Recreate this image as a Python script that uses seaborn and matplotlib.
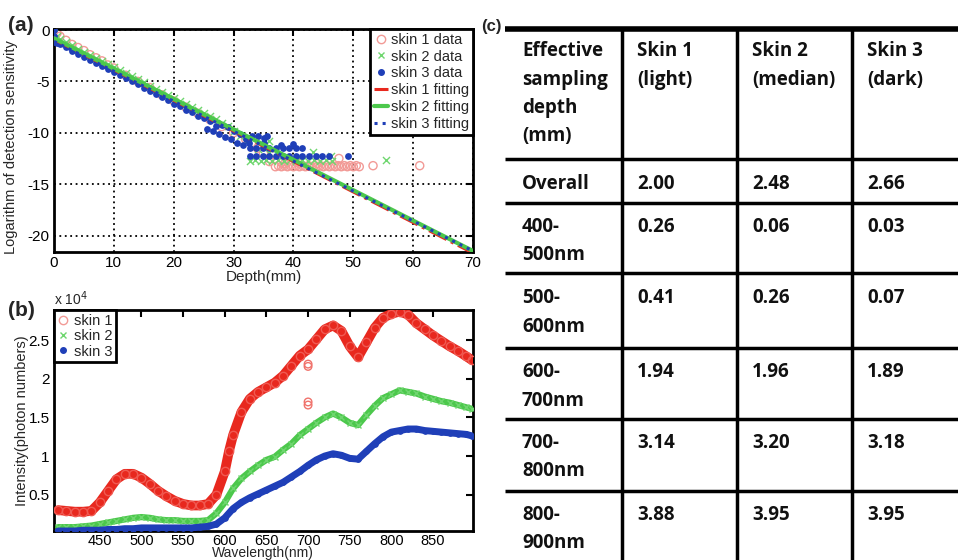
import numpy as np
import pandas as pd
import seaborn as sns
import matplotlib.pyplot as plt
from matplotlib.lines import Line2D

# ------------------ DATA ------------------
# (a) logarithm of detection sensitivity vs depth (mm)
skin1_depth = [0, 0.5, 1, 2, 3, 4, 5, 6, 7, 8, 9, 10, 12, 14, 16, 18, 20, 22, 24, 26,
               28, 30, 32, 33, 34, 35, 36,
               37, 37.5, 38, 38.5, 39, 39.5, 40, 40.5, 41, 41.5, 42, 42.5, 43, 43.5, 44,
               44.5, 45, 45.5, 46, 46.5, 47, 47.5, 48, 48.5, 49, 49.5, 50, 50.5, 51,
               53.3, 61.1, 47.6, 38.5, 41, 44, 36, 38]
skin1_logsens = [0.1, -0.3, -0.6, -1.0, -1.4, -1.7, -2.0, -2.4, -2.7, -3.0, -3.4, -3.7,
                 -4.4, -5.0, -5.6, -6.3, -6.9, -7.5, -8.1, -8.7,
                 -9.4, -10.0, -10.6, -11.0, -11.5, -12.0, -12.5,
                 -13.3, -13.2, -13.3, -13.2, -13.3, -13.2, -13.3, -13.2, -13.3, -13.2, -13.3,
                 -13.2, -13.3, -13.2, -13.3, -13.2, -13.3, -13.2, -13.3, -13.2, -13.3,
                 -13.2, -13.3, -13.2, -13.3, -13.2, -13.3, -13.2, -13.3,
                 -13.2, -13.2, -12.5, -13.0, -13.0, -13.0, -12.8, -12.9]

skin2_depth = [0, 0.5, 1, 2, 3, 4, 5, 6, 7, 8, 9, 10, 11, 12, 13, 14, 15, 16, 17, 18, 19,
               20, 21, 22, 23, 24, 25, 26, 27, 28, 29, 30, 31, 32,
               32.7, 33.5, 34.5, 35.5, 36.5, 37.5, 38.5, 39.5, 40.5, 41.5, 42.5, 43.5,
               44.5, 45.5, 46.5, 35.9, 43.3, 55.5, 46.3, 34, 36]
skin2_logsens = [-0.3, -0.6, -0.9, -1.2, -1.5, -1.8, -2.1, -2.4, -2.7, -3.0, -3.3, -3.6,
                 -3.9, -4.2, -4.5, -4.8, -5.1, -5.4, -5.7, -6.0, -6.3,
                 -6.6, -6.9, -7.2, -7.5, -7.8, -8.1, -8.4, -8.7, -9.0, -9.3, -9.8, -10.3,
                 -10.9,
                 -12.7, -12.6, -12.7, -12.6, -12.7, -12.6, -12.7, -12.6, -12.7, -12.6,
                 -12.7, -12.6, -12.7, -12.6, -12.7, -10.8, -11.9, -12.6, -12.3, -11.6, -12.0]

skin3_depth = [0, 0, 0, 0.5, 1, 2, 3, 4, 5, 6, 7, 8, 9, 10, 11, 12, 13, 14, 15, 16, 17,
               18, 19, 20, 21, 22, 23, 24, 25, 25.5, 26, 26.5, 27, 27.5, 28, 28.5, 29,
               29.5, 30, 30.5, 31, 31.5, 32, 32.5, 33, 34, 35, 35.6,
               32.7, 33.8, 34.9, 36, 37.1, 38.2, 39.3, 40.4, 41.5,
               32.7, 33.8, 34.9, 36, 37.1, 38.2, 39.3, 40.4, 41.5, 42.6, 43.7, 44.8, 46,
               49.1, 35, 38, 40]
skin3_logsens = [0, -0.6, -1.2, -1.3, -1.4, -1.7, -2.0, -2.3, -2.6, -2.9, -3.2, -3.5, -3.8,
                 -4.1, -4.4, -4.7, -5.0, -5.3, -5.6, -5.9, -6.2,
                 -6.5, -6.8, -7.2, -7.4, -7.8, -8.0, -8.4, -8.6, -9.6, -8.9, -9.8, -9.3,
                 -10.1, -9.2, -10.4, -9.4,
                 -10.6, -9.8, -11.0, -10.1, -11.2, -10.6, -11.0, -10.3, -10.3, -10.5, -10.3,
                 -11.5, -11.5, -11.5, -11.5, -11.5, -11.5, -11.5, -11.5, -11.5,
                 -12.25, -12.25, -12.25, -12.25, -12.25, -12.25, -12.25, -12.25, -12.25,
                 -12.25, -12.25, -12.25, -12.25,
                 -12.3, -11.0, -11.2, -11.1]

fit_depth = [0, 70]
fit1 = [-0.9, -21.7]
fit2 = [-0.8, -21.5]
fit3 = [-1.1, -21.5]

# (b) spectra, intensity in units of 10^4 photons
skin1_wl = [400, 410, 420, 430, 440, 450, 460, 470, 480, 490, 500, 510, 520, 530, 540,
            550, 560, 570, 580, 590, 600, 605, 610, 620, 630, 640, 650, 660, 670, 680,
            690, 700, 710, 720, 730, 740, 750, 760, 770, 780, 790, 800, 810, 820, 830,
            840, 850, 860, 870, 880, 890, 897]
skin1_int = [0.30, 0.29, 0.28, 0.28, 0.29, 0.40, 0.55, 0.70, 0.77, 0.77, 0.72, 0.64,
             0.55, 0.48, 0.42, 0.38, 0.36, 0.36, 0.38, 0.50, 0.80, 1.06, 1.27, 1.57,
             1.74, 1.83, 1.89, 1.95, 2.04, 2.17, 2.30, 2.38, 2.51, 2.64, 2.69, 2.62,
             2.42, 2.28, 2.47, 2.66, 2.79, 2.84, 2.87, 2.83, 2.72, 2.64, 2.56, 2.49,
             2.42, 2.36, 2.29, 2.24]
skin1_outlier_wl = [700, 700, 700, 700]
skin1_outlier_int = [2.19, 2.16, 1.70, 1.66]

skin2_wl = [400, 410, 420, 430, 440, 450, 460, 470, 480, 490, 500, 510, 520, 530, 540,
            550, 560, 570, 580, 590, 600, 610, 620, 630, 640, 650, 660, 670, 680, 690,
            700, 710, 720, 730, 740, 750, 760, 770, 780, 790, 800, 810, 820, 830, 840,
            850, 860, 870, 880, 890, 897]
skin2_int = [0.08, 0.08, 0.08, 0.09, 0.10, 0.12, 0.14, 0.16, 0.18, 0.20, 0.21, 0.20,
             0.18, 0.17, 0.17, 0.16, 0.16, 0.16, 0.17, 0.26, 0.40, 0.58, 0.71, 0.80,
             0.88, 0.95, 0.99, 1.08, 1.16, 1.27, 1.35, 1.43, 1.50, 1.55, 1.50, 1.43,
             1.40, 1.53, 1.65, 1.75, 1.80, 1.85, 1.83, 1.81, 1.77, 1.74, 1.71, 1.69,
             1.66, 1.63, 1.61]

skin3_wl = [400, 410, 420, 430, 440, 450, 460, 470, 480, 490, 500, 510, 520, 530, 540,
            550, 560, 570, 580, 590, 600, 610, 620, 630, 640, 650, 660, 670, 680, 690,
            700, 710, 720, 730, 740, 750, 760, 770, 780, 790, 800, 810, 820, 830, 840,
            850, 860, 870, 880, 890, 897]
skin3_int = [0.03, 0.03, 0.03, 0.04, 0.04, 0.04, 0.05, 0.05, 0.06, 0.06, 0.07, 0.07,
             0.07, 0.07, 0.07, 0.07, 0.07, 0.08, 0.09, 0.12, 0.20, 0.32, 0.40, 0.46,
             0.51, 0.56, 0.61, 0.66, 0.73, 0.80, 0.88, 0.95, 1.00, 1.03, 1.01, 0.97,
             0.96, 1.06, 1.16, 1.25, 1.31, 1.33, 1.35, 1.35, 1.33, 1.32, 1.31, 1.30,
             1.29, 1.28, 1.26]

# (c) effective sampling depth table
header = ["Effective\nsampling\ndepth\n(mm)", "Skin 1\n(light)", "Skin 2\n(median)", "Skin 3\n(dark)"]
row_names = ["Overall", "400-\n500nm", "500-\n600nm", "600-\n700nm", "700-\n800nm", "800-\n900nm"]
depth_skin1 = [2.00, 0.26, 0.41, 1.94, 3.14, 3.88]
depth_skin2 = [2.48, 0.06, 0.26, 1.96, 3.20, 3.95]
depth_skin3 = [2.66, 0.03, 0.07, 1.89, 3.18, 3.95]

# ------------------ STYLE ------------------
sns.set_style("white")
plt.rcParams['font.family'] = ['Liberation Sans', 'DejaVu Sans']
plt.rcParams['font.size'] = 11

RED = '#e8281e'
GREEN = '#4cc84c'
GREEN_LIGHT = '#6fd66f'
BLUE = '#1f3fb8'

W, H = 958, 560
fig = plt.figure(figsize=(W / 100, H / 100), dpi=100)
fig.patch.set_facecolor('white')


def px_axes(left, top, right, bottom):
    return fig.add_axes([left / W, 1 - bottom / H, (right - left) / W, (bottom - top) / H])


def matlab_frame(ax, size=11, pad=3):
    for s in ax.spines.values():
        s.set_linewidth(2)
        s.set_color('black')
    ax.tick_params(direction='in', top=True, right=True, length=5, width=1.5,
                   labelsize=size, pad=pad, colors='black')


# background axes in pixel coordinates for the table and panel letters
bg = fig.add_axes([0, 0, 1, 1])
bg.set_xlim(0, W)
bg.set_ylim(H, 0)
bg.axis('off')

# ------------------ (a) SCATTER + FITTING ------------------
ax_a = px_axes(54, 29, 473, 252)
sns.scatterplot(x=skin1_depth, y=skin1_logsens, ax=ax_a, marker='o', s=34,
                facecolor='none', edgecolor='#f29a96', linewidth=1, zorder=2)
sns.scatterplot(x=skin2_depth, y=skin2_logsens, ax=ax_a, marker='x', s=26,
                color=GREEN_LIGHT, linewidth=1, zorder=3)
sns.scatterplot(x=skin3_depth, y=skin3_logsens, ax=ax_a, marker='o', s=24,
                color=BLUE, edgecolor=BLUE, linewidth=0, zorder=4)
sns.lineplot(x=fit_depth, y=fit1, ax=ax_a, color=RED, lw=2.2, linestyle='-.', zorder=5)
sns.lineplot(x=fit_depth, y=fit2, ax=ax_a, color=GREEN, lw=3, linestyle='-', zorder=6)
sns.lineplot(x=fit_depth, y=fit3, ax=ax_a, color=BLUE, lw=2.2, linestyle=':', zorder=7)

ax_a.set_xlim(0, 70)
ax_a.set_ylim(-21.6, 0.1)
ax_a.set_xticks([0, 10, 20, 30, 40, 50, 60, 70])
ax_a.set_yticks([0, -5, -10, -15, -20])
ax_a.set_yticklabels(['0', '-5', '-10', '-15', '-20'])
ax_a.grid(True, color='black', linestyle=(0, (1, 2)), linewidth=1.3)
ax_a.set_axisbelow(True)
matlab_frame(ax_a)
ax_a.set_xlabel('Depth(mm)', fontsize=11, labelpad=0)
ax_a.set_ylabel('Logarithm of detection sensitivity', fontsize=10.5, labelpad=0)
ax_a.yaxis.set_label_coords(-0.085, 0.47)

handles_a = [
    Line2D([], [], marker='o', ls='none', mfc='none', mec='#f29a96', ms=6, label='skin 1 data'),
    Line2D([], [], marker='x', ls='none', color=GREEN_LIGHT, ms=5, label='skin 2 data'),
    Line2D([], [], marker='o', ls='none', color=BLUE, ms=4, label='skin 3 data'),
    Line2D([], [], color=RED, ls='-.', lw=2.2, label='skin 1 fitting'),
    Line2D([], [], color=GREEN, ls='-', lw=3, label='skin 2 fitting'),
    Line2D([], [], color=BLUE, ls=':', lw=2.2, label='skin 3 fitting'),
]
leg_a = ax_a.legend(handles=handles_a, loc='upper right', borderaxespad=0, fontsize=10.5,
                    handlelength=1.0, handletextpad=0.2, labelspacing=0.2,
                    borderpad=0.25, fancybox=False, framealpha=1)
leg_a.get_frame().set_edgecolor('black')
leg_a.get_frame().set_linewidth(2)

# ------------------ (b) SPECTRA ------------------
ax_b = px_axes(54, 310, 473, 531)
sns.lineplot(x=skin1_wl, y=skin1_int, ax=ax_b, color=RED, lw=7, estimator=None,
             marker='o', markersize=6, mfc='none', mec='#f05a52', mew=1, zorder=3)
sns.scatterplot(x=skin1_outlier_wl, y=skin1_outlier_int, ax=ax_b, marker='o', s=30,
                facecolor='none', edgecolor='#f0726b', linewidth=1, zorder=3)
sns.lineplot(x=skin2_wl, y=skin2_int, ax=ax_b, color=GREEN, lw=4.5, estimator=None,
             marker='x', markersize=5, mec=GREEN_LIGHT, mew=1, zorder=4)
sns.lineplot(x=skin3_wl, y=skin3_int, ax=ax_b, color=BLUE, lw=5, estimator=None,
             marker='o', markersize=4, mfc=BLUE, mec=BLUE, zorder=5)

ax_b.set_xlim(395, 898)
ax_b.set_ylim(0.03, 2.89)
ax_b.set_xticks([450, 500, 550, 600, 650, 700, 750, 800, 850])
ax_b.set_yticks([0.5, 1, 1.5, 2, 2.5])
ax_b.set_yticklabels(['0.5', '1', '1.5', '2', '2.5'])
matlab_frame(ax_b)
ax_b.tick_params(axis='x', labelsize=10.5, pad=2)
ax_b.set_xlabel('')
ax_b.set_ylabel('Intensity(photon numbers)', fontsize=10.5, labelpad=0)
ax_b.text(0, 1.01, r'x 10$^4$', transform=ax_b.transAxes, fontsize=10,
          ha='left', va='bottom')
# x label sits right at the bottom edge, as in the original
bg.text(263, 560, 'Wavelength(nm)', fontsize=10, ha='center', va='bottom')

handles_b = [
    Line2D([], [], marker='o', ls='none', mfc='none', mec='#f29a96', ms=6, label='skin 1'),
    Line2D([], [], marker='x', ls='none', color=GREEN_LIGHT, ms=5, label='skin 2'),
    Line2D([], [], marker='o', ls='none', color=BLUE, ms=4, label='skin 3'),
]
leg_b = ax_b.legend(handles=handles_b, loc='upper left', borderaxespad=0, fontsize=10.5,
                    handlelength=0.8, handletextpad=0.3, labelspacing=0.1,
                    borderpad=0.25, fancybox=False, framealpha=1)
leg_b.get_frame().set_edgecolor('black')
leg_b.get_frame().set_linewidth(2)

# ------------------ panel letters ------------------
bg.text(8, 31, '(a)', fontsize=15, fontweight='bold', va='baseline')
bg.text(8, 316, '(b)', fontsize=15, fontweight='bold', va='baseline')
bg.text(481, 31, '(c)', fontsize=12, fontweight='bold', va='baseline')

# ------------------ (c) TABLE ------------------
tfont = dict(family=['Open Sans', 'DejaVu Sans'], fontweight='bold', fontsize=13.5,
             color='#111111')
col_x = [522, 637, 752, 867]
vlines_x = [622, 737, 852]
hlines_y = [159, 203, 273, 348, 419, 491]
line_step = 28.5

bg.plot([505, W], [29, 29], color='black', lw=4, solid_capstyle='butt')
for y in hlines_y:
    bg.plot([505, W], [y, y], color='black', lw=2.5, solid_capstyle='butt')
for x in vlines_x:
    bg.plot([x, x], [29, H], color='black', lw=2.5, solid_capstyle='butt')


def cell_text(x, base, text):
    for i, line in enumerate(text.split('\n')):
        bg.text(x, base + i * line_step, line, va='baseline', ha='left', **tfont)


for j, t in enumerate(header):
    cell_text(col_x[j], 56, t)

row_base = [189, 232, 303, 377, 448, 520]
for i, name in enumerate(row_names):
    cell_text(col_x[0], row_base[i], name)
    for j, vals in enumerate([depth_skin1, depth_skin2, depth_skin3]):
        cell_text(col_x[j + 1], row_base[i], f'{vals[i]:.2f}')

fig.savefig('out.png', dpi=100, facecolor='white')
